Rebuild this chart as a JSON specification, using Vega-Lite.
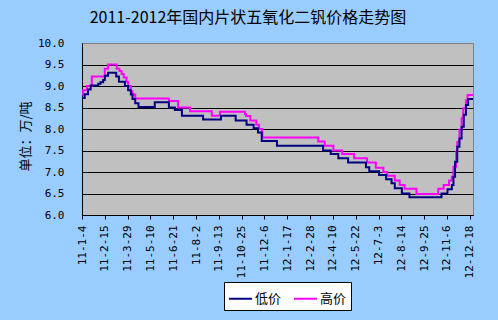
{
  "$schema": "https://vega.github.io/schema/vega-lite/v6.json",
  "autosize": "none",
  "width": 391,
  "height": 172,
  "padding": {"left": 82, "top": 43, "right": 25, "bottom": 105},
  "background": "#99CCFF",
  "title": {
    "text": "2011-2012年国内片状五氧化二钒价格走势图",
    "font": "Noto Sans CJK SC",
    "fontSize": 16,
    "fontWeight": "normal",
    "color": "black",
    "anchor": "middle",
    "dx": -29.5,
    "offset": 11
  },
  "config": {
    "view": {"fill": "#C0C0C0", "stroke": "#808080", "strokeWidth": 1},
    "axis": {
      "labelFont": "DejaVu Sans Mono",
      "labelFontSize": 11,
      "labelColor": "black",
      "domainColor": "black",
      "tickColor": "black",
      "titleFont": "Noto Sans CJK SC",
      "titleColor": "black",
      "titleFontWeight": "normal"
    }
  },
  "data": {
    "values": [
      {"date": "2011-01-04", "series": "高价", "value": 8.8},
      {"date": "2011-01-06", "series": "高价", "value": 8.9},
      {"date": "2011-01-13", "series": "高价", "value": 9.0},
      {"date": "2011-01-22", "series": "高价", "value": 9.22},
      {"date": "2011-02-15", "series": "高价", "value": 9.4},
      {"date": "2011-02-21", "series": "高价", "value": 9.5},
      {"date": "2011-03-09", "series": "高价", "value": 9.4},
      {"date": "2011-03-14", "series": "高价", "value": 9.35},
      {"date": "2011-03-18", "series": "高价", "value": 9.28},
      {"date": "2011-03-22", "series": "高价", "value": 9.2},
      {"date": "2011-03-27", "series": "高价", "value": 9.1},
      {"date": "2011-03-30", "series": "高价", "value": 9.0},
      {"date": "2011-04-04", "series": "高价", "value": 8.88},
      {"date": "2011-04-07", "series": "高价", "value": 8.8},
      {"date": "2011-04-12", "series": "高价", "value": 8.71},
      {"date": "2011-06-13", "series": "高价", "value": 8.65},
      {"date": "2011-06-30", "series": "高价", "value": 8.5},
      {"date": "2011-07-22", "series": "高价", "value": 8.41},
      {"date": "2011-08-31", "series": "高价", "value": 8.31},
      {"date": "2011-09-15", "series": "高价", "value": 8.4},
      {"date": "2011-10-31", "series": "高价", "value": 8.35},
      {"date": "2011-11-02", "series": "高价", "value": 8.3},
      {"date": "2011-11-10", "series": "高价", "value": 8.2},
      {"date": "2011-11-21", "series": "高价", "value": 8.1},
      {"date": "2011-11-26", "series": "高价", "value": 8.0},
      {"date": "2011-12-02", "series": "高价", "value": 7.8},
      {"date": "2012-03-14", "series": "高价", "value": 7.71},
      {"date": "2012-03-26", "series": "高价", "value": 7.61},
      {"date": "2012-04-11", "series": "高价", "value": 7.5},
      {"date": "2012-04-27", "series": "高价", "value": 7.42},
      {"date": "2012-05-19", "series": "高价", "value": 7.32},
      {"date": "2012-06-12", "series": "高价", "value": 7.22},
      {"date": "2012-06-28", "series": "高价", "value": 7.1},
      {"date": "2012-07-12", "series": "高价", "value": 7.0},
      {"date": "2012-07-19", "series": "高价", "value": 6.91},
      {"date": "2012-08-02", "series": "高价", "value": 6.8},
      {"date": "2012-08-11", "series": "高价", "value": 6.7},
      {"date": "2012-08-20", "series": "高价", "value": 6.61},
      {"date": "2012-09-11", "series": "高价", "value": 6.49},
      {"date": "2012-10-21", "series": "高价", "value": 6.61},
      {"date": "2012-10-31", "series": "高价", "value": 6.7},
      {"date": "2012-11-10", "series": "高价", "value": 6.8},
      {"date": "2012-11-15", "series": "高价", "value": 6.89},
      {"date": "2012-11-18", "series": "高价", "value": 7.12},
      {"date": "2012-11-23", "series": "高价", "value": 7.47},
      {"date": "2012-11-25", "series": "高价", "value": 7.7},
      {"date": "2012-11-29", "series": "高价", "value": 7.98},
      {"date": "2012-12-03", "series": "高价", "value": 8.25},
      {"date": "2012-12-06", "series": "高价", "value": 8.48},
      {"date": "2012-12-11", "series": "高价", "value": 8.67},
      {"date": "2012-12-14", "series": "高价", "value": 8.79},
      {"date": "2012-12-24", "series": "高价", "value": 8.79},
      {"date": "2011-01-04", "series": "低价", "value": 8.72},
      {"date": "2011-01-09", "series": "低价", "value": 8.81},
      {"date": "2011-01-15", "series": "低价", "value": 8.92},
      {"date": "2011-01-20", "series": "低价", "value": 9.01},
      {"date": "2011-02-03", "series": "低价", "value": 9.05},
      {"date": "2011-02-07", "series": "低价", "value": 9.09},
      {"date": "2011-02-12", "series": "低价", "value": 9.14},
      {"date": "2011-02-15", "series": "低价", "value": 9.24},
      {"date": "2011-02-21", "series": "低价", "value": 9.31},
      {"date": "2011-03-08", "series": "低价", "value": 9.22},
      {"date": "2011-03-13", "series": "低价", "value": 9.1},
      {"date": "2011-03-24", "series": "低价", "value": 9.0},
      {"date": "2011-03-30", "series": "低价", "value": 8.9},
      {"date": "2011-04-04", "series": "低价", "value": 8.8},
      {"date": "2011-04-07", "series": "低价", "value": 8.7},
      {"date": "2011-04-12", "series": "低价", "value": 8.6},
      {"date": "2011-04-18", "series": "低价", "value": 8.51},
      {"date": "2011-05-18", "series": "低价", "value": 8.62},
      {"date": "2011-06-13", "series": "低价", "value": 8.5},
      {"date": "2011-06-24", "series": "低价", "value": 8.44},
      {"date": "2011-07-07", "series": "低价", "value": 8.31},
      {"date": "2011-08-15", "series": "低价", "value": 8.22},
      {"date": "2011-09-17", "series": "低价", "value": 8.31},
      {"date": "2011-10-14", "series": "低价", "value": 8.2},
      {"date": "2011-11-03", "series": "低价", "value": 8.1},
      {"date": "2011-11-16", "series": "低价", "value": 8.02},
      {"date": "2011-11-24", "series": "低价", "value": 7.92},
      {"date": "2011-12-01", "series": "低价", "value": 7.72},
      {"date": "2011-12-29", "series": "低价", "value": 7.61},
      {"date": "2012-03-23", "series": "低价", "value": 7.5},
      {"date": "2012-04-06", "series": "低价", "value": 7.42},
      {"date": "2012-04-20", "series": "低价", "value": 7.32},
      {"date": "2012-05-08", "series": "低价", "value": 7.22},
      {"date": "2012-06-10", "series": "低价", "value": 7.11},
      {"date": "2012-06-16", "series": "低价", "value": 7.02},
      {"date": "2012-07-04", "series": "低价", "value": 6.93},
      {"date": "2012-07-17", "series": "低价", "value": 6.83},
      {"date": "2012-07-27", "series": "低价", "value": 6.74},
      {"date": "2012-08-02", "series": "低价", "value": 6.62},
      {"date": "2012-08-15", "series": "低价", "value": 6.5},
      {"date": "2012-08-29", "series": "低价", "value": 6.41},
      {"date": "2012-10-27", "series": "低价", "value": 6.5},
      {"date": "2012-11-07", "series": "低价", "value": 6.6},
      {"date": "2012-11-15", "series": "低价", "value": 6.7},
      {"date": "2012-11-18", "series": "低价", "value": 6.89},
      {"date": "2012-11-21", "series": "低价", "value": 7.24},
      {"date": "2012-11-25", "series": "低价", "value": 7.59},
      {"date": "2012-11-29", "series": "低价", "value": 7.78},
      {"date": "2012-12-03", "series": "低价", "value": 8.05},
      {"date": "2012-12-07", "series": "低价", "value": 8.33},
      {"date": "2012-12-11", "series": "低价", "value": 8.56},
      {"date": "2012-12-15", "series": "低价", "value": 8.7},
      {"date": "2012-12-24", "series": "低价", "value": 8.7}
    ]
  },
  "mark": {"type": "line", "interpolate": "step-after", "strokeWidth": 2, "clip": true},
  "encoding": {
    "x": {
      "field": "date",
      "type": "temporal",
      "scale": {
        "type": "utc",
        "domain": [
          {"year": 2011, "month": 1, "date": 4, "utc": true},
          {"year": 2012, "month": 12, "date": 24, "utc": true}
        ]
      },
      "axis": {
        "title": null,
        "grid": false,
        "values": [
          {"year": 2011, "month": 1, "date": 4, "utc": true},
          {"year": 2011, "month": 2, "date": 15, "utc": true},
          {"year": 2011, "month": 3, "date": 29, "utc": true},
          {"year": 2011, "month": 5, "date": 10, "utc": true},
          {"year": 2011, "month": 6, "date": 21, "utc": true},
          {"year": 2011, "month": 8, "date": 2, "utc": true},
          {"year": 2011, "month": 9, "date": 13, "utc": true},
          {"year": 2011, "month": 10, "date": 25, "utc": true},
          {"year": 2011, "month": 12, "date": 6, "utc": true},
          {"year": 2012, "month": 1, "date": 17, "utc": true},
          {"year": 2012, "month": 2, "date": 28, "utc": true},
          {"year": 2012, "month": 4, "date": 10, "utc": true},
          {"year": 2012, "month": 5, "date": 22, "utc": true},
          {"year": 2012, "month": 7, "date": 3, "utc": true},
          {"year": 2012, "month": 8, "date": 14, "utc": true},
          {"year": 2012, "month": 9, "date": 25, "utc": true},
          {"year": 2012, "month": 11, "date": 6, "utc": true},
          {"year": 2012, "month": 12, "date": 18, "utc": true}
        ],
        "labelExpr": "utcFormat(datum.value, '%y-%-m-%-d')",
        "labelAngle": -90,
        "labelPadding": 6,
        "tickSize": 4,
        "labelOverlap": false,
        "labelBound": false,
        "labelFlush": false
      }
    },
    "y": {
      "field": "value",
      "type": "quantitative",
      "scale": {"domain": [6, 10], "nice": false, "zero": false},
      "axis": {
        "title": "单位：万/吨",
        "titleFontSize": 13,
        "titleAngle": -90,
        "titleX": -57,
        "titleY": 93,
        "titleAlign": "center",
        "titleBaseline": "middle",
        "values": [6, 6.5, 7, 7.5, 8, 8.5, 9, 9.5, 10],
        "format": ".1f",
        "ticks": false,
        "labelPadding": 18,
        "grid": true,
        "gridColor": {"condition": {"test": "datum.value == 10", "value": "#808080"}, "value": "black"},
        "gridOpacity": 1,
        "gridWidth": 1
      }
    },
    "color": {
      "field": "series",
      "type": "nominal",
      "scale": {"domain": ["低价", "高价"], "range": ["#000080", "#FF00FF"]},
      "legend": {
        "title": null,
        "orient": "none",
        "direction": "horizontal",
        "legendX": 142,
        "legendY": 239,
        "symbolType": "stroke",
        "symbolSize": 529,
        "symbolStrokeWidth": 2,
        "labelFont": "Noto Sans CJK SC",
        "labelFontSize": 13,
        "labelColor": "black",
        "labelOffset": 2,
        "columnPadding": 8,
        "padding": 4,
        "strokeColor": "black",
        "fillColor": "white"
      }
    }
  }
}
